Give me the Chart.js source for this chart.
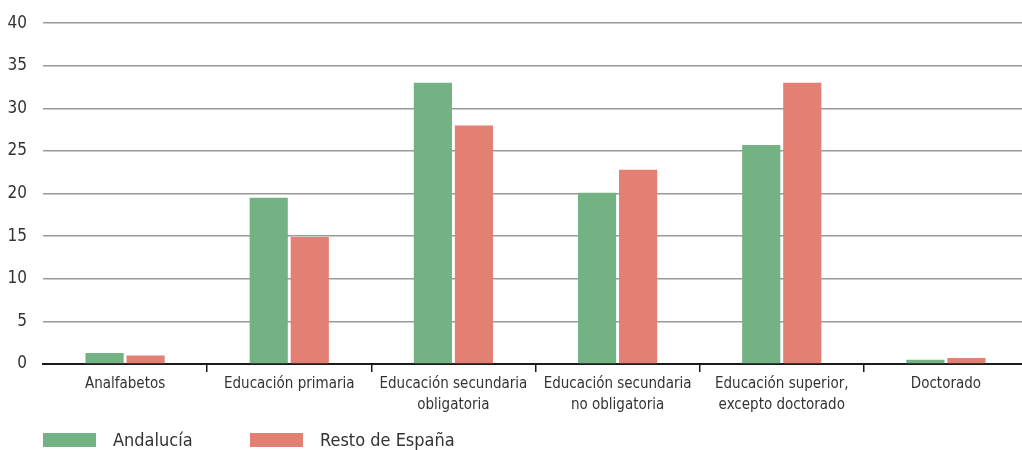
<!DOCTYPE html>
<html>
<head>
<meta charset="utf-8">
<script src="https://cdn.jsdelivr.net/npm/chart.js@4/dist/chart.umd.min.js"></script>
<style>
  html, body { margin: 0; padding: 0; background: #fff; overflow: hidden; }
  #wrap { width: 1030px; height: 450px; position: relative; }
  #plot { position: absolute; left: 0; top: -3px; width: 1030px; height: 453px; }
  #legend { position: absolute; left: 43px; top: 429px; display: flex; font-family: 'Liberation Sans Narrow', 'DejaVu Sans Condensed', sans-serif; font-size: 18px; color: #333; }
  #legend span.item { display: flex; align-items: center; }
  #legend i { display: inline-block; width: 53px; height: 14px; margin-right: 17px; }
</style>
</head>
<body>
<div id="wrap"><div id="plot"><canvas id="chart"></canvas></div><div id="legend"></div></div>
<script>
// Nivel de estudios: Andalucía vs resto de España (%)
const categories = [
  'Analfabetos',
  'Educación primaria',
  ['Educación secundaria', 'obligatoria'],
  ['Educación secundaria', 'no obligatoria'],
  ['Educación superior,', 'excepto doctorado'],
  'Doctorado'
];
const andalucia = [1.3, 19.5, 33.0, 20.1, 25.7, 0.5];
const restoEspana = [1.0, 14.9, 28.0, 22.8, 33.0, 0.7];
const yTicks = [0, 5, 10, 15, 20, 25, 30, 35, 40];
const seriesNames = ['Andalucía', 'Resto de España'];

const FONT = "'Liberation Sans Narrow', 'DejaVu Sans Condensed', sans-serif";
const COLORS = { green: '#73b383', red: '#e47f74', grid: '#999999', axis: '#1a1a1a', text: '#333333' };

Chart.defaults.font.family = FONT;
Chart.defaults.color = COLORS.text;

const chart = new Chart(document.getElementById('chart'), {
  type: 'bar',
  data: {
    labels: categories,
    datasets: [
      { label: seriesNames[0], data: andalucia, backgroundColor: COLORS.green, categoryPercentage: 0.5, barPercentage: 0.93 },
      { label: seriesNames[1], data: restoEspana, backgroundColor: COLORS.red, categoryPercentage: 0.5, barPercentage: 0.93 }
    ]
  },
  options: {
    responsive: true,
    maintainAspectRatio: false,
    animation: false,
    layout: { padding: { top: 11, right: 2, left: 0, bottom: 32 } },
    plugins: {
      tooltip: { enabled: false },
      legend: { display: false }
    },
    scales: {
      x: {
        grid: {
          offset: true,
          drawOnChartArea: false,
          drawTicks: true,
          tickLength: 8,
          lineWidth: 1.5,
          color: ctx => (ctx.index === 0 || ctx.index === categories.length) ? 'rgba(0,0,0,0)' : COLORS.axis
        },
        border: { display: true, color: COLORS.axis, width: 2 },
        ticks: { padding: 2, maxRotation: 0, autoSkip: false, font: { size: 15, lineHeight: 1.4 } }
      },
      y: {
        min: 0,
        max: 40,
        afterBuildTicks: scale => { scale.ticks = yTicks.map(v => ({ value: v })); },
        afterFit: scale => { scale.width = 43; },
        grid: {
          drawTicks: false,
          lineWidth: 1.5,
          color: ctx => ctx.tick && ctx.tick.value === 0 ? 'rgba(0,0,0,0)' : COLORS.grid
        },
        border: { display: false },
        ticks: { padding: 16, font: { size: 17 } }
      }
    }
  }
});

// leyenda en HTML con los colores de cada serie
const legend = document.getElementById('legend');
chart.data.datasets.forEach((ds, i) => {
  const item = document.createElement('span');
  item.className = 'item';
  item.style.width = i === 0 ? '207px' : 'auto';
  const sw = document.createElement('i');
  sw.style.background = ds.backgroundColor;
  item.appendChild(sw);
  item.appendChild(document.createTextNode(ds.label));
  legend.appendChild(item);
});
</script>
</body>
</html>
